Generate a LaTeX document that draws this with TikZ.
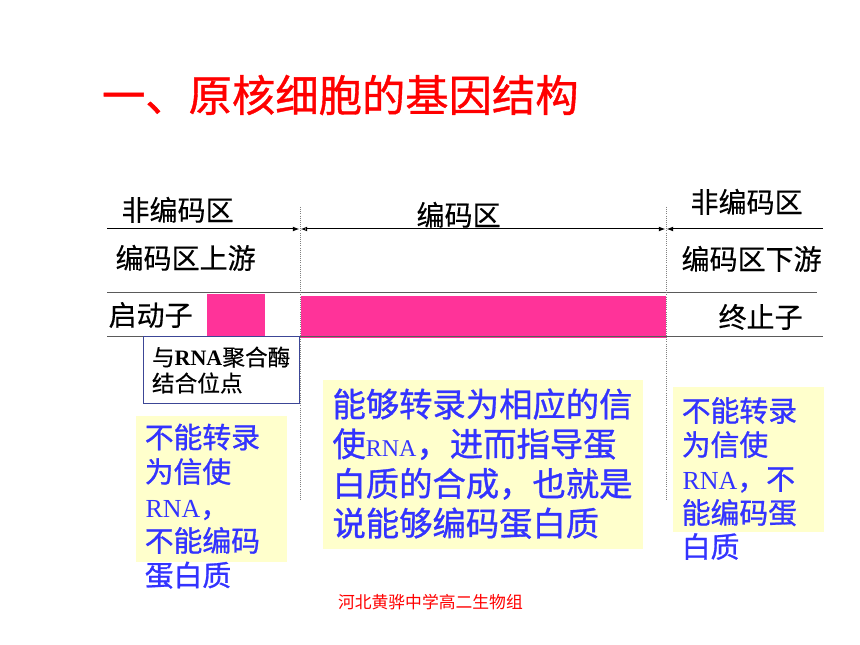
\documentclass[tikz,border=0pt]{standalone}
\usepackage{fontspec}
\setmainfont{Liberation Serif}
\newfontfamily\cjk{Noto Sans CJK SC}
\newfontfamily\cjkm[FakeBold=0.9]{Noto Sans CJK SC}
\newfontfamily\cjkl[FakeBold=0.4]{Noto Sans CJK SC}
\newfontfamily\lat{Liberation Serif}
\usetikzlibrary{arrows.meta}
\definecolor{pinkbar}{RGB}{255,51,153}
\definecolor{blutext}{RGB}{51,51,255}
\definecolor{yelbox}{RGB}{255,255,204}
\definecolor{boxline}{RGB}{60,70,150}
\definecolor{titlered}{RGB}{255,0,0}
\definecolor{rulegray}{RGB}{90,90,90}
\newcommand\fsz[1]{\fontsize{#1}{#1}\selectfont}
\tikzset{
  txt/.style={anchor=base west, inner sep=0pt, outer sep=0pt},
  lbl/.style={txt, font=\cjkl\fsz{21pt}},
  boxtxt/.style={txt, font=\cjkl\fsz{17pt}},
  bmid/.style={txt, text=blutext, font=\cjkm\fsz{25pt}},
  bside/.style={txt, text=blutext, font=\cjkm\fsz{21.6pt}},
  dimline/.style={black, line width=0.75pt},
  rule/.style={rulegray, line width=0.75pt},
  guide/.style={gray, densely dotted, line width=0.6pt},
  yel/.style={fill=yelbox, draw=none},
  bar/.style={fill=pinkbar, draw=none}
}
\begin{document}
\begin{tikzpicture}[x=0.75pt,y=-0.75pt]
\useasboundingbox (0,0) rectangle (860,645);
% title
\node[txt, text=titlered, font=\cjkm\fsz{32.5pt}] (title) at (102,111.5) {一、原核细胞的基因结构};
% guides
\coordinate (g1t) at (300,207); \coordinate (g1b) at (300,500);
\coordinate (g2t) at (666,207); \coordinate (g2b) at (666,500);
% yellow boxes
\fill[yel] (136,416) rectangle (287,562);
\fill[yel] (323,380) rectangle (643,549);
\fill[yel] (673,387) rectangle (824,532);
% pink bars
\fill[bar] (207,294) rectangle (265,336);
\fill[bar] (301,296) rectangle (666,338);
% rules
\coordinate (r1l) at (107,293); \coordinate (r1r) at (817,293);
\coordinate (r2l) at (107,336); \coordinate (r2r) at (823,336);
\draw[rule] (r1l) -- (r1r);
\draw[rule] (r2l) -- (r2r);
\draw[guide] (g1t) -- (g1b);
\draw[guide] (g2t) -- (g2b);
% dimension line
\coordinate (d0) at (107,229);
\coordinate (d1a) at (299.5,229); \coordinate (d1b) at (300.5,229);
\coordinate (d2a) at (665.5,229); \coordinate (d2b) at (666.5,229);
\coordinate (d3) at (823,229);
\draw[dimline, -{Latex[length=5pt,width=3.6pt]}] (d0) -- (d1a);
\draw[dimline, {Latex[length=5pt,width=3.6pt,open]}-{Latex[length=5pt,width=3.6pt]}] (d1b) -- (d2a);
\draw[dimline, {Latex[length=5pt,width=3.6pt]}-] (d2b) -- (d3);
% labels
\node[lbl] (nc1) at (121.6,220.6) {非编码区};
\node[lbl] (cd) at (416.6,225.6) {编码区};
\node[lbl] (nc2) at (690.6,212.6) {非编码区};
\node[lbl] (up) at (115.6,268.6) {编码区上游};
\node[lbl] (down) at (681.6,269.6) {编码区下游};
\node[lbl] (prom) at (108.6,325.6) {启动子};
\node[lbl] (term) at (718.6,327.6) {终止子};
% RNA polymerase box
\draw[boxline, line width=0.75pt, fill=white] (143,336) rectangle (299,403);
\node[boxtxt] (bx1) at (152,365.7) {与{\lat\bfseries\fsz{16.5pt}RNA}聚合酶};
\node[boxtxt] (bx2) at (152,391.7) {结合位点};
% middle text
\node[bmid] (m1) at (332.5,416.7) {能够转录为相应的信};
\node[bmid] (m2) at (332.5,456.4) {使{\lat\fsz{18pt}RNA}，进而指导蛋};
\node[bmid] (m3) at (332.5,496.1) {白质的合成，也就是};
\node[bmid] (m4) at (332.5,535.8) {说能够编码蛋白质};
% left text
\node[bside] (l1) at (144.8,448) {不能转录};
\node[bside] (l2) at (144.8,482.5) {为信使};
\node[bside] (l3) at (145.5,517) {{\lat\fsz{19.5pt}RNA}，};
\node[bside] (l4) at (144.8,551.5) {不能编码};
\node[bside] (l5) at (144.8,586) {蛋白质};
% right text
\node[bside] (r1) at (681.8,421.5) {不能转录};
\node[bside] (r2) at (681.8,455.5) {为信使};
\node[bside] (r3) at (682.5,489.5) {{\lat\fsz{19.5pt}RNA}，不};
\node[bside] (r4) at (681.8,523.5) {能编码蛋};
\node[bside] (r5) at (681.8,557.5) {白质};
% footer
\node[txt, text=titlered, font=\cjk\fsz{12.6pt}] (foot) at (338,608.4) {河北黄骅中学高二生物组};
\end{tikzpicture}
\end{document}
